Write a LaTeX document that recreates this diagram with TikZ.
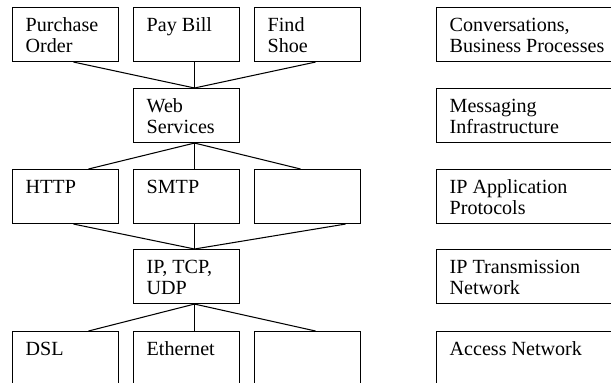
\documentclass[tikz,border=0pt]{standalone}
\usepackage{fontspec}
\setmainfont{Liberation Serif}
\begin{document}
\begin{tikzpicture}[x=1pt,y=-1pt,
  layer/.style={draw, line width=1.05pt, inner sep=0pt, anchor=north west,
                minimum width=106pt, minimum height=54pt},
  wide/.style={layer, minimum width=200pt},
  open/.style={minimum height=70pt},
  caption/.style={anchor=base west, inner sep=0pt, xshift=13.5pt, yshift=-24pt,
                  font=\fontsize{20.1}{21}\selectfont},
  link/.style={line width=1.05pt}]
\useasboundingbox (0,0) rectangle (611,383);
\clip (0,0) rectangle (611,383);

% protocol stack, left part
\node[layer] (po)  at (12,7)   {};
\node[layer] (pb)  at (133,7)  {};
\node[layer] (fs)  at (254,7)  {};
\node[layer] (ws)  at (133,88) {};
\node[layer] (http) at (12,169)  {};
\node[layer] (smtp) at (133,169) {};
\node[layer] (app)  at (254,169) {};
\node[layer] (ip)   at (133,249) {};
\node[layer, open] (dsl) at (12,331)  {};
\node[layer, open] (eth) at (133,331) {};
\node[layer, open] (acc) at (254,331) {};

\node[caption] at (po.north west) {\begin{tabular}[t]{@{}l@{}}Purchase\\Order\end{tabular}};
\node[caption] at (pb.north west) {Pay Bill};
\node[caption] at (fs.north west) {\begin{tabular}[t]{@{}l@{}}Find\\Shoe\end{tabular}};
\node[caption] at (ws.north west) {\begin{tabular}[t]{@{}l@{}}Web\\Services\end{tabular}};
\node[caption] at (http.north west) {HTTP};
\node[caption] at (smtp.north west) {SMTP};
\node[caption] at (ip.north west) {\begin{tabular}[t]{@{}l@{}}IP, TCP,\\UDP\end{tabular}};
\node[caption] at (dsl.north west) {DSL};
\node[caption] at (eth.north west) {Ethernet};

% layer names, right column
\node[wide] (l1) at (436,7)   {};
\node[wide] (l2) at (436,88)  {};
\node[wide] (l3) at (436,169) {};
\node[wide] (l4) at (436,249) {};
\node[wide, open] (l5) at (436,331) {};

\node[caption] at (l1.north west) {\begin{tabular}[t]{@{}l@{}}Conversations,\\Business Processes\end{tabular}};
\node[caption] at (l2.north west) {\begin{tabular}[t]{@{}l@{}}Messaging\\Infrastructure\end{tabular}};
\node[caption] at (l3.north west) {\begin{tabular}[t]{@{}l@{}}IP Application\\Protocols\end{tabular}};
\node[caption] at (l4.north west) {\begin{tabular}[t]{@{}l@{}}IP Transmission\\Network\end{tabular}};
\node[caption] at (l5.north west) {Access Network};

% connectors
\draw[link] ([xshift=8pt]po.south) -- ([xshift=8pt]ws.north);
\draw[link] ([xshift=8pt]pb.south) -- ([xshift=8pt]ws.north);
\draw[link] ([xshift=8pt]fs.south) -- ([xshift=8pt]ws.north);

\draw[link] ([xshift=8pt]ws.south) -- ([xshift=23pt]http.north);
\draw[link] ([xshift=8pt]ws.south) -- ([xshift=8pt]smtp.north);
\draw[link] ([xshift=8pt]ws.south) -- ([xshift=-7pt]app.north);

\draw[link] ([xshift=8pt]http.south) -- ([xshift=8pt]ip.north);
\draw[link] ([xshift=8pt]smtp.south) -- ([xshift=8pt]ip.north);
\draw[link] ([xshift=38pt]app.south) -- ([xshift=8pt]ip.north);

\draw[link] ([xshift=8pt]ip.south) -- ([xshift=23pt]dsl.north);
\draw[link] ([xshift=8pt]ip.south) -- ([xshift=8pt]eth.north);
\draw[link] ([xshift=8pt]ip.south) -- ([xshift=8pt]acc.north);
\end{tikzpicture}
\end{document}
